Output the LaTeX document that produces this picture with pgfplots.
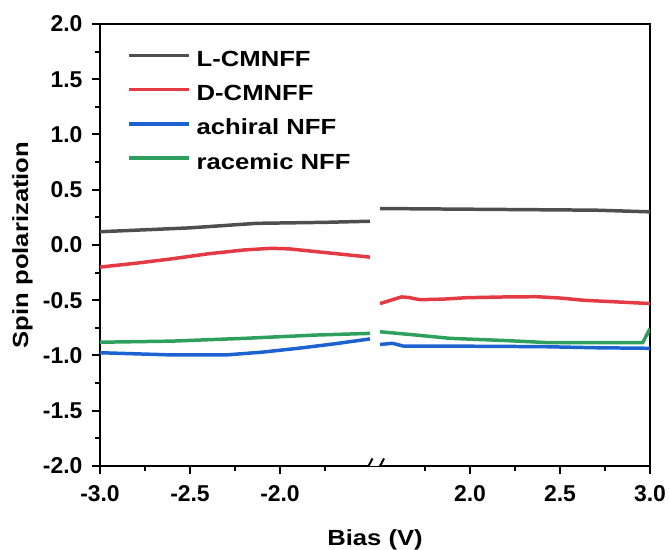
\documentclass[border=0pt]{standalone}
\usepackage{fontspec}
\setmainfont{Liberation Sans}
\newfontfamily\wfont[FakeStretch=1.17]{Liberation Sans}
\usepackage{pgfplots}
\pgfplotsset{compat=1.18}
\definecolor{cL}{RGB}{78,78,78}
\definecolor{cD}{RGB}{228,58,68}
\definecolor{cA}{RGB}{28,98,208}
\definecolor{cR}{RGB}{44,160,92}
\begin{document}
\begin{tikzpicture}
\begin{axis}[
  name=ax,
  scale only axis, width=550bp, height=442bp,
  xmin=-3, xmax=0.0556, ymin=-2, ymax=2,
  axis line style={line width=2pt},
  every tick/.style={line width=2pt, black},
  tick align=outside, xtick pos=bottom, ytick pos=left,
  major tick length=8bp, minor tick length=5bp,
  xtick={-3,-2.5,-2,-0.9444,-0.4444,0.0556},
  xticklabels={-3.0,-2.5,-2.0,2.0,2.5,3.0},
  minor xtick={-2.75,-2.25,-1.75,-1.1944,-0.6944,-0.1944},
  ytick={-2,-1.5,...,2}, minor y tick num=1,
  yticklabel style={xshift=-6bp, /pgf/number format/.cd,fixed,fixed zerofill,precision=1},
  xticklabel style={yshift=-8bp},
  /pgf/number format/assume math mode=true,
  tick label style={font=\fontsize{23}{25}\selectfont\bfseries},
  xlabel={Bias (V)}, ylabel={Spin polarization},
  label style={font=\wfont\fontsize{22}{24}\selectfont\bfseries},
  xlabel style={at={(axis description cs:0.5,-0.181)}, anchor=base},
  ylabel style={at={(axis description cs:-0.1309,0.5)}, anchor=base, rotate=0},
  legend style={draw=none, fill=none, inner sep=0pt, at={(axis cs:-2.85,1.826)}, anchor=north west,
    font=\wfont\fontsize{22}{24}\selectfont\bfseries, row sep=0bp, column sep=6bp,
    nodes={inner sep=0pt, text height=23bp, text depth=11.2bp},
    legend cell align=left},
  legend image code/.code={\draw[#1, line width=3.5pt] (0bp,5bp) -- (60bp,5bp);},
  every axis plot/.append style={line width=3.5pt, mark=none, line join=round},
]
\addplot[cL] coordinates {(-3,0.12)(-2.5,0.155)(-2.13,0.196)(-1.75,0.205)(-1.5,0.215)};
\addlegendentry{L-CMNFF}
\addplot[cD] coordinates {(-3,-0.20)(-2.8,-0.165)(-2.6,-0.125)(-2.4,-0.08)(-2.2,-0.045)(-2.05,-0.03)(-1.95,-0.035)(-1.8,-0.06)(-1.65,-0.085)(-1.5,-0.11)};
\addlegendentry{D-CMNFF}
\addplot[cA] coordinates {(-3,-0.975)(-2.8,-0.985)(-2.6,-0.995)(-2.3,-0.995)(-2.1,-0.97)(-1.9,-0.935)(-1.7,-0.895)(-1.5,-0.85)};
\addlegendentry{achiral NFF}
\addplot[cR] coordinates {(-3,-0.88)(-2.6,-0.87)(-2.2,-0.845)(-1.8,-0.815)(-1.5,-0.80)};
\addlegendentry{racemic NFF}
% right segment (x shifted across the axis break)
\addplot[cL, forget plot, x filter/.expression={x-2.9444}] coordinates {(1.5,0.33)(1.9,0.325)(2.3,0.32)(2.7,0.315)(3.0,0.30)};
\addplot[cD, forget plot, x filter/.expression={x-2.9444}] coordinates {(1.5,-0.53)(1.62,-0.47)(1.66,-0.475)(1.72,-0.495)(1.85,-0.49)(1.98,-0.477)(2.2,-0.47)(2.37,-0.468)(2.5,-0.48)(2.63,-0.50)(3.0,-0.53)};
\addplot[cA, forget plot, x filter/.expression={x-2.9444}] coordinates {(1.5,-0.90)(1.57,-0.89)(1.63,-0.915)(1.89,-0.915)(2.4,-0.92)(2.7,-0.93)(3.0,-0.935)};
\addplot[cR, forget plot, x filter/.expression={x-2.9444}] coordinates {(1.5,-0.785)(1.7,-0.815)(1.89,-0.845)(2.2,-0.865)(2.44,-0.884)(2.96,-0.884)(3.0,-0.755)};
% axis break mark
\fill[white] (axis cs:-1.50,-2.03) rectangle (axis cs:-1.45,-1.97);
\draw[line width=2pt] (axis cs:-1.53,-2.068) -- (axis cs:-1.486,-1.932);
\draw[line width=2pt] (axis cs:-1.466,-2.068) -- (axis cs:-1.422,-1.932);
\end{axis}
\pgfresetboundingbox
\path ([shift={(-100bp,-84bp)}]ax.south west) rectangle ([shift={(20bp,24bp)}]ax.north east);
\end{tikzpicture}
\end{document}
